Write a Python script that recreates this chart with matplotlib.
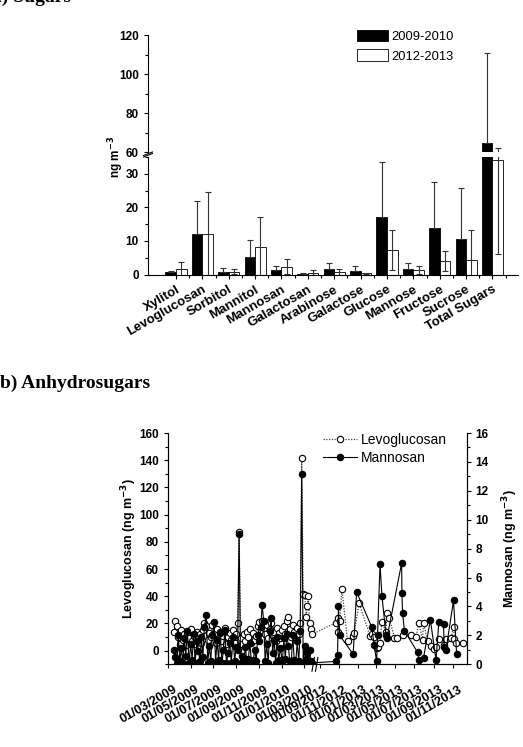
import matplotlib
matplotlib.use("Agg")
import matplotlib.pyplot as plt
from matplotlib.ticker import MultipleLocator
import matplotlib.transforms as mtransforms
import numpy as np
import pandas as pd

plt.rcParams['font.family'] = ['Liberation Sans', 'DejaVu Sans']
plt.rcParams['font.weight'] = 'bold'

# ---------------- a) Sugars ----------------
sugars = ["Xylitol", "Levoglucosan", "Sorbitol", "Mannitol", "Mannosan", "Galactosan",
          "Arabinose", "Galactose", "Glucose", "Mannose", "Fructose", "Sucrose", "Total Sugars"]
mean_0910 = [0.7, 12.0, 0.7, 5.2, 1.3, 0.3, 1.7, 1.1, 17.0, 1.6, 14.0, 10.5, 64.5]
sd_0910 = [0.3, 9.8, 1.3, 5.2, 1.2, 0.1, 1.6, 1.4, 16.5, 1.7, 13.6, 15.2, 46.5]
mean_1213 = [1.5, 12.2, 0.9, 8.3, 2.3, 0.5, 0.8, 0.4, 7.4, 1.3, 4.0, 4.4, 34.2]
sd_1213 = [2.1, 12.3, 0.6, 8.9, 2.2, 0.7, 0.9, 0.2, 6.0, 1.2, 3.0, 9.0, 28.0]

# ---------------- b) Anhydrosugars ----------------
seg1_dates = [
    "2009-03-18", "2009-03-21", "2009-03-25", "2009-03-29", "2009-04-02", "2009-04-06", "2009-04-10",
    "2009-04-14", "2009-04-18", "2009-04-22", "2009-04-27", "2009-05-01", "2009-05-05", "2009-05-09",
    "2009-05-13", "2009-05-18", "2009-05-22", "2009-05-26", "2009-05-30", "2009-06-03", "2009-06-07",
    "2009-06-12", "2009-06-16", "2009-06-20", "2009-06-24", "2009-06-28", "2009-07-03", "2009-07-07",
    "2009-07-11", "2009-07-15", "2009-07-19", "2009-07-24", "2009-07-28", "2009-08-01", "2009-08-05",
    "2009-08-10", "2009-08-14", "2009-08-18", "2009-08-23", "2009-08-27", "2009-08-31", "2009-09-04",
    "2009-09-08", "2009-09-12", "2009-09-16", "2009-09-20", "2009-09-25", "2009-09-29", "2009-10-03",
    "2009-10-07", "2009-10-11", "2009-10-16", "2009-10-20", "2009-10-24", "2009-10-28", "2009-11-01",
    "2009-11-05", "2009-11-09", "2009-11-13", "2009-11-17", "2009-11-21", "2009-11-25", "2009-11-29",
    "2009-12-03", "2009-12-07", "2009-12-11", "2009-12-15", "2009-12-19", "2009-12-23", "2009-12-28",
    "2010-01-02", "2010-01-06", "2010-01-10", "2010-01-14", "2010-01-18", "2010-01-22", "2010-01-26",
    "2010-01-30", "2010-02-03", "2010-02-07", "2010-02-11", "2010-02-15", "2010-02-19", "2010-02-23",
    "2010-02-27", "2010-03-03", "2010-03-07", "2010-03-10", "2010-03-13", "2010-03-16", "2010-03-19",
    "2010-03-22"]
seg1_levo = [14, 22, 18, 10, 5, 15, 8, 12, 4, 13, 9, 16, 7, 11, 5, 14, 9, 12, 6, 15, 20,
             18, 8, 13, 10, 19, 12, 6, 16, 9, 14, 7, 11, 17, 5, 10, 13, 8, 15, 6, 12, 20,
             87, 9, 5, 12, 7, 14, 10, 16, 6, 13, 8, 11, 18, 21, 15, 22, 17, 12, 19, 9, 16,
             20, 11, 14, 7, 17, 13, 9, 15, 18, 12, 22, 25, 16, 10, 19, 14, 8, 17, 12, 20, 142,
             42, 41, 25, 33, 40, 20, 16, 12]
seg1_mann = [1.0, 0.5, 0.1, 2.0, 0.2, 1.1, 0.1, 1.8, 0.6, 2.3, 0.1, 1.4, 0.3, 2.1, 0.1, 1.6, 0.9,
             0.2, 1.9, 0.5, 2.6, 3.4, 0.1, 1.3, 0.2, 2.0, 2.9, 0.1, 1.7, 0.3, 2.2, 0.1, 1.0, 2.4,
             0.1, 0.8, 1.5, 0.1, 1.9, 0.2, 1.2, 1.0, 9.0, 0.1, 0.6, 0.2, 1.2, 0.1, 0.4, 1.5, 0.1,
             0.3, 1.0, 0.2, 2.0, 1.6, 2.6, 4.1, 3.0, 0.2, 1.4, 0.1, 2.3, 3.2, 0.8, 1.7, 0.1, 1.9,
             0.3, 1.1, 0.1, 1.8, 0.4, 2.1, 1.3, 0.2, 0.1, 2.0, 0.3, 0.1, 1.6, 0.2, 2.3, 13.2,
             0.1, 1.3, 0.4, 0.8, 0.1, 1.0, 0.2, 0.1]

seg2_dates = [
    "2012-10-23", "2012-10-28", "2012-10-31", "2012-11-04", "2012-11-11", "2012-11-29", "2012-12-15",
    "2012-12-17", "2012-12-20", "2012-12-28", "2013-01-05", "2013-02-09", "2013-02-15", "2013-02-22",
    "2013-03-02", "2013-03-05", "2013-03-13", "2013-03-19", "2013-04-01", "2013-04-04", "2013-04-12",
    "2013-04-28", "2013-05-05", "2013-05-21", "2013-05-22", "2013-05-24", "2013-05-30", "2013-06-20",
    "2013-07-06", "2013-07-11", "2013-07-15", "2013-07-27", "2013-07-30", "2013-08-12", "2013-08-21",
    "2013-08-23", "2013-08-31", "2013-09-08", "2013-09-17", "2013-10-02", "2013-10-04", "2013-10-10",
    "2013-10-26", "2013-11-03", "2013-11-06", "2013-11-11", "2013-11-13", "2013-12-02"]
nan = np.nan
seg2_levo = [20.6, 23.8, 14.0, 21.5, 45.4, 7.4, 10.8, nan, 12.8, nan, 34.9, 10.8, 12.6, 10.0,
             1.8, 3.0, 5.5, 21.3, 14.0, 27.4, 24.0, 9.1, 9.3, nan, nan, 11.6, nan, 11.6,
             9.9, nan, 20.5, 7.9, 20.5, 7.4, nan, 3.5, 1.0, 3.0, 8.3, 4.2, nan, 8.4,
             9.1, 17.7, 8.4, 5.5, nan, 5.5]
seg2_mann = [0.2, 0.65, 4.0, 2.0, nan, nan, nan, 0.7, nan, 5.0, nan, nan, 2.55, 1.34,
             0.2, 2.03, 6.94, 4.74, 2.03, 1.8, nan, nan, nan, 7.0, 4.9, 3.54, 2.33, nan,
             nan, 0.83, 0.3, nan, 0.45, nan, 3.07, nan, nan, 0.3, 2.9, 2.8, 1.2, 1.0,
             nan, 4.42, nan, nan, 0.7, nan]

tick_dates = ["2009-03-01", "2009-05-01", "2009-07-01", "2009-09-01", "2009-11-01", "2010-01-01",
              "2010-03-01", "2012-09-01", "2012-11-01", "2013-01-01", "2013-03-01", "2013-05-01",
              "2013-07-01", "2013-09-01", "2013-11-01"]


def xpos(d):
    # broken time axis: 2009-2010 campaign, then 2012-2013 campaign
    d = pd.Timestamp(d)
    if d.year < 2011:
        return (d - pd.Timestamp("2009-03-01")).days * 0.372
    return 151.5 + (d - pd.Timestamp("2012-09-01")).days * 0.312


fig = plt.figure(figsize=(5.23, 7.47), dpi=100)

fig.text(-0.015, 0.9975, "a) Sugars", family="Liberation Serif", weight="bold",
         fontsize=14, va="baseline", ha="left")
fig.text(0.0, 0.487, "b) Anhydrosugars", family="Liberation Serif", weight="bold",
         fontsize=14, va="center", ha="left")

ax_up = fig.add_axes([0.283, 0.7965, 0.707, 0.1566])
ax_lo = fig.add_axes([0.283, 0.6325, 0.707, 0.1573])

idx = np.arange(len(sugars))
w = 0.4
err_kw = dict(ecolor="#333333", elinewidth=0.8, capsize=2.5, capthick=0.8)
for ax in (ax_up, ax_lo):
    ax.bar(idx - w / 2, mean_0910, w, color="black", edgecolor="black", lw=0.6,
           yerr=[np.zeros(len(sugars)), sd_0910], error_kw=err_kw, label="2009-2010")
    ax.bar(idx + w / 2, mean_1213, w, color="white", edgecolor="black", lw=0.6,
           yerr=sd_1213, error_kw=err_kw, label="2012-2013")
    ax.set_xlim(-1.06, 12.96)
    for s in ("top", "right"):
        ax.spines[s].set_visible(False)
    ax.tick_params(direction="out", labelsize=8.5, length=3, width=0.8)
    ax.tick_params(which="minor", direction="out", length=2, width=0.8)

ax_up.set_ylim(60, 120)
ax_up.yaxis.set_major_locator(MultipleLocator(20))
ax_up.yaxis.set_minor_locator(MultipleLocator(10))
ax_up.spines["bottom"].set_visible(False)
ax_up.set_xticks([])
ax_up.legend(loc="upper left", bbox_to_anchor=(0.565, 1.045), frameon=False,
             borderpad=0, borderaxespad=0,
             handlelength=2.4, handleheight=1.0, labelspacing=0.5, handletextpad=0.3,
             prop={"weight": "normal", "size": 9.3})

ax_lo.set_ylim(0, 35)
ax_lo.yaxis.set_major_locator(MultipleLocator(10))
ax_lo.yaxis.set_minor_locator(MultipleLocator(5))
ax_lo.set_xticks(idx)
ax_lo.set_xticks(idx + 0.5, minor=True)
ax_lo.set_xticklabels(sugars, rotation=30, ha="right", rotation_mode="anchor",
                      fontsize=9.5, fontweight="bold")

# break marks on the y axis
kw = dict(color="black", lw=0.8, clip_on=False)
ax_up.plot([-0.012, 0.012], [-0.03, 0.0], transform=ax_up.transAxes, **kw)
ax_lo.plot([-0.012, 0.012], [1.0, 1.03], transform=ax_lo.transAxes, **kw)

fig.text(0.222, 0.79, "ng m$^{-3}$", rotation=90, ha="center", va="center",
         fontsize=8.5, fontweight="bold")

# ---------------- bottom chart ----------------
dates = seg1_dates + seg2_dates
x = np.array([xpos(d) for d in dates])
levo = np.array(seg1_levo + seg2_levo, dtype=float)
mann = np.array(seg1_mann + seg2_mann, dtype=float)

ax2 = fig.add_axes([0.321, 0.1107, 0.571, 0.3096])
axr = ax2.twinx()

lv = ~np.isnan(levo)
mv = ~np.isnan(mann)
ax2.plot(x[lv], levo[lv], ls=(0, (1, 1.2)), color="#444444", lw=0.9, marker="o",
         mfc="white", mec="black", ms=4.6, mew=0.8, label="Levoglucosan")
axr.plot(x[mv], mann[mv], ls="-", color="black", lw=0.8, marker="o",
         mfc="black", mec="black", ms=4.6, mew=0.8, label="Mannosan")

ax2.set_xlim(0, 298)
ax2.set_ylim(-10, 160)
axr.set_ylim(0, 16)
ax2.yaxis.set_major_locator(MultipleLocator(20))
ax2.yaxis.set_minor_locator(MultipleLocator(10))
axr.yaxis.set_major_locator(MultipleLocator(2))
axr.yaxis.set_minor_locator(MultipleLocator(1))
for a in (ax2, axr):
    a.spines["top"].set_visible(False)
    a.tick_params(direction="out", labelsize=8.5, length=3, width=0.8)
    a.tick_params(which="minor", direction="out", length=2, width=0.8)

ax2.set_xticks([xpos(d) for d in tick_dates])
ax2.set_xticklabels([pd.Timestamp(d).strftime("%d/%m/%Y") for d in tick_dates],
                    rotation=30, ha="right", rotation_mode="anchor", fontsize=9.2,
                    fontweight="bold")
ax2.tick_params(axis="x", pad=11)
shift = mtransforms.ScaledTranslation(5 / 100, 0, fig.dpi_scale_trans)
for lab in ax2.get_xticklabels():
    lab.set_transform(lab.get_transform() + shift)

ax2.set_ylabel("Levoglucosan (ng m$^{-3}$)", fontsize=9, fontweight="bold", labelpad=0)
axr.set_ylabel("Mannosan (ng m$^{-3}$)", fontsize=9, fontweight="bold", labelpad=8)

# break mark on the time axis
trans = mtransforms.blended_transform_factory(ax2.transData, ax2.transAxes)
for xb in (145.0, 148.5):
    ax2.plot([xb - 1.2, xb + 1.2], [-0.03, 0.03], transform=trans, **kw)

h1, l1 = ax2.get_legend_handles_labels()
h2, l2 = axr.get_legend_handles_labels()
axr.legend(h1 + h2, l1 + l2, loc="upper left", bbox_to_anchor=(0.52, 1.0), frameon=False,
           borderpad=0, borderaxespad=0,
           handlelength=2.4, handletextpad=0.3, labelspacing=0.25,
           prop={"weight": "normal", "size": 10})

fig.savefig("out.png", dpi=100)
